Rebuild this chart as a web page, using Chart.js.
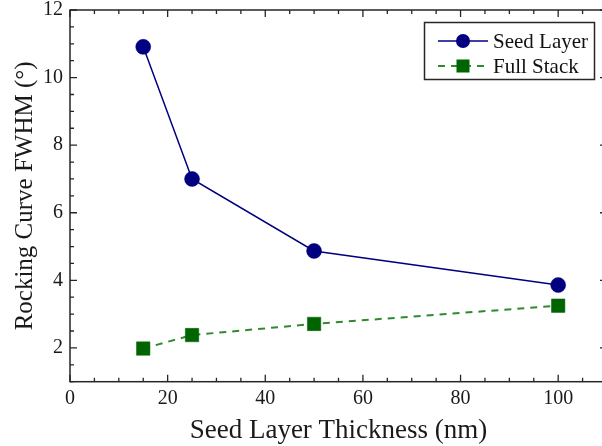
<!DOCTYPE html>
<html><head><meta charset="utf-8">
<script src="https://cdn.jsdelivr.net/npm/chart.js@4.4.0/dist/chart.umd.min.js"></script>
<style>html,body{margin:0;padding:0;overflow:hidden;background:#fff;width:602px;height:446px}
#wrap{width:602px;height:446px;overflow:hidden;position:relative}
canvas{display:block;position:absolute;left:0;top:0;width:640px;height:446px}</style>
</head><body>
<div id="wrap"><canvas id="c" width="640" height="446"></canvas></div>
<script>
const thickness = [15, 25, 50, 100];
const seedLayer = [10.91, 7.00, 4.87, 3.86];
const fullStack = [1.98, 2.38, 2.71, 3.25];
const xTickLabels = [0, 20, 40, 60, 80, 100];
const yTickLabels = [2, 4, 6, 8, 10, 12];
const seriesNames = ['Seed Layer', 'Full Stack'];
const xTitle = 'Seed Layer Thickness (nm)';
const yTitle = 'Rocking Curve FWHM (\u00B0)';
const xRange = [0, 110], yRange = [1, 12];
const xMinorStep = 5, yMinorStep = 0.5;

const FONT = 'Liberation Serif';
const AXIS = '#262626';
const SEED = '#000080';
const FULL_LINE = '#2f8a2f';
const FULL_MARK = '#006400';

const framePlugin = {
  id: 'frame',
  beforeDatasetsDraw(chart) {
    const {ctx, chartArea: a, scales: {x, y}} = chart;
    ctx.save();
    ctx.strokeStyle = AXIS;
    ctx.lineWidth = 1.5;
    ctx.strokeRect(a.left, a.top, a.right - a.left, a.bottom - a.top);
    ctx.lineWidth = 1.3;
    const major = 7, minor = 4;
    ctx.beginPath();
    for (let v = xRange[0]; v <= xRange[1] + 1e-9; v += xMinorStep) {
      const px = x.getPixelForValue(v);
      const len = xTickLabels.includes(v) ? major : minor;
      ctx.moveTo(px, a.bottom); ctx.lineTo(px, a.bottom - len);
      ctx.moveTo(px, a.top); ctx.lineTo(px, a.top + len);
    }
    for (let v = yRange[0]; v <= yRange[1] + 1e-9; v += yMinorStep) {
      const py = y.getPixelForValue(v);
      const len = yTickLabels.includes(v) ? major : minor;
      ctx.moveTo(a.left, py); ctx.lineTo(a.left + len, py);
      ctx.moveTo(a.right, py); ctx.lineTo(a.right - len, py);
    }
    ctx.stroke();
    ctx.restore();
  }
};

const legendPlugin = {
  id: 'customLegend',
  afterDraw(chart) {
    const ctx = chart.ctx;
    ctx.save();
    const bx = 424.5, by = 22.5, bw = 170, bh = 57;
    ctx.fillStyle = '#fff';
    ctx.fillRect(bx, by, bw, bh);
    ctx.strokeStyle = AXIS; ctx.lineWidth = 1.5;
    ctx.strokeRect(bx, by, bw, bh);
    const rows = [41, 66];
    ctx.strokeStyle = SEED; ctx.lineWidth = 1.5;
    ctx.beginPath(); ctx.moveTo(438, rows[0]); ctx.lineTo(488, rows[0]); ctx.stroke();
    ctx.fillStyle = SEED;
    ctx.beginPath(); ctx.arc(463, rows[0], 7, 0, Math.PI * 2); ctx.fill();
    ctx.strokeStyle = FULL_LINE; ctx.lineWidth = 2;
    ctx.setLineDash([7, 6]); ctx.lineDashOffset = 0;
    ctx.beginPath(); ctx.moveTo(438, rows[1]); ctx.lineTo(488, rows[1]); ctx.stroke();
    ctx.setLineDash([]);
    ctx.fillStyle = FULL_MARK;
    ctx.fillRect(463 - 6.5, rows[1] - 6.5, 13, 13);
    ctx.fillStyle = '#111';
    ctx.font = '21px "' + FONT + '"';
    ctx.textBaseline = 'middle'; ctx.textAlign = 'left';
    ctx.fillText(seriesNames[0], 493, rows[0] + 1);
    ctx.fillText(seriesNames[1], 493, rows[1] + 1);
    ctx.restore();
  }
};

new Chart(document.getElementById('c'), {
  type: 'line',
  data: {
    datasets: [
      {
        label: seriesNames[0],
        data: thickness.map((t, i) => ({x: t, y: seedLayer[i]})),
        borderColor: SEED, borderWidth: 1.5,
        pointStyle: 'circle', pointRadius: 7.5, pointHoverRadius: 7.5,
        pointBackgroundColor: SEED, pointBorderColor: SEED, pointBorderWidth: 0.5,
        tension: 0
      },
      {
        label: seriesNames[1],
        data: thickness.map((t, i) => ({x: t, y: fullStack[i]})),
        borderColor: FULL_LINE, borderWidth: 2, borderDash: [7, 6],
        pointStyle: 'rect', pointRadius: 9.5, pointHoverRadius: 9.5,
        pointBackgroundColor: FULL_MARK, pointBorderColor: FULL_MARK, pointBorderWidth: 0.5,
        tension: 0
      }
    ]
  },
  options: {
    responsive: false,
    maintainAspectRatio: false,
    animation: false,
    devicePixelRatio: 1,
    layout: {padding: {top: 10, right: 33, left: 0, bottom: 0}},
    plugins: {legend: {display: false}, tooltip: {enabled: false}},
    scales: {
      x: {
        type: 'linear', min: xRange[0], max: xRange[1],
        afterBuildTicks: s => { s.ticks = xTickLabels.map(v => ({value: v})); },
        afterFit: s => { s.height = 64.3; s.paddingLeft = 0; s.paddingRight = 0; },
        grid: {display: false, drawTicks: false},
        border: {display: false},
        ticks: {padding: 5, color: '#1a1a1a', font: {family: FONT, size: 20}, maxRotation: 0, autoSkip: false},
        title: {display: true, text: xTitle, color: '#1a1a1a', font: {family: FONT, size: 27, lineHeight: 1.1}, padding: {top: 0, bottom: 0}}
      },
      y: {
        type: 'linear', min: yRange[0], max: yRange[1],
        afterBuildTicks: s => { s.ticks = yTickLabels.map(v => ({value: v})); },
        afterFit: s => { s.width = 70; s.paddingTop = 0; s.paddingBottom = 0; },
        grid: {display: false, drawTicks: false},
        border: {display: false},
        ticks: {padding: 7, color: '#1a1a1a', font: {family: FONT, size: 20}, autoSkip: false},
        title: {display: true, text: yTitle, color: '#1a1a1a', font: {family: FONT, size: 25, lineHeight: 1.2}, padding: {top: 10, bottom: 0}}
      }
    }
  },
  plugins: [framePlugin, legendPlugin]
});
</script>
</body></html>
